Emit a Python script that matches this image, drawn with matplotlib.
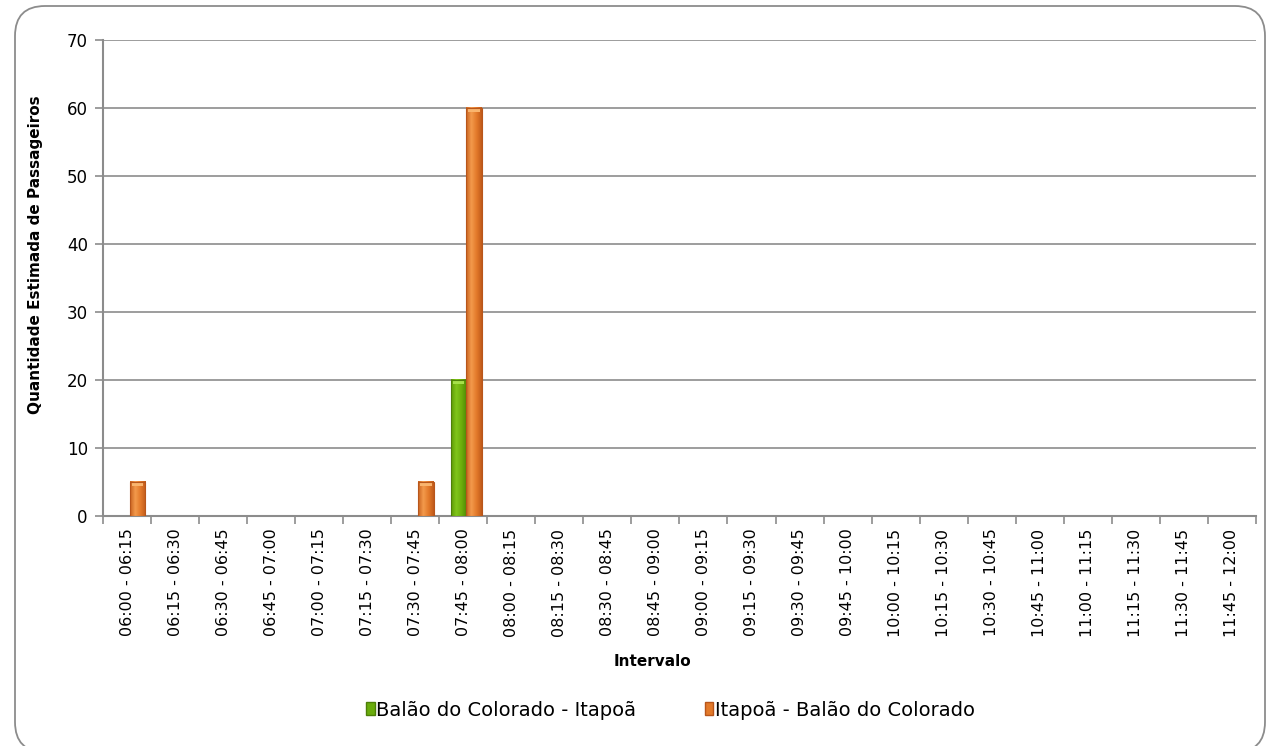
import matplotlib
matplotlib.use("Agg")
import matplotlib.pyplot as plt
from matplotlib.patches import FancyBboxPatch, Patch
from matplotlib.colors import LinearSegmentedColormap
from matplotlib.transforms import IdentityTransform
import numpy as np

categories = ["06:00 - 06:15", "06:15 - 06:30", "06:30 - 06:45", "06:45 - 07:00",
              "07:00 - 07:15", "07:15 - 07:30", "07:30 - 07:45", "07:45 - 08:00",
              "08:00 - 08:15", "08:15 - 08:30", "08:30 - 08:45", "08:45 - 09:00",
              "09:00 - 09:15", "09:15 - 09:30", "09:30 - 09:45", "09:45 - 10:00",
              "10:00 - 10:15", "10:15 - 10:30", "10:30 - 10:45", "10:45 - 11:00",
              "11:00 - 11:15", "11:15 - 11:30", "11:30 - 11:45", "11:45 - 12:00"]
balao_itapoa = [0, 0, 0, 0, 0, 0, 0, 20, 0, 0, 0, 0, 0, 0, 0, 0, 0, 0, 0, 0, 0, 0, 0, 0]
itapoa_balao = [5, 0, 0, 0, 0, 0, 5, 60, 0, 0, 0, 0, 0, 0, 0, 0, 0, 0, 0, 0, 0, 0, 0, 0]
series_names = ["Balão do Colorado - Itapoã", "Itapoã - Balão do Colorado"]

plt.rcParams['font.family'] = ['DejaVu Sans']

green, green_e = "#6aac0c", "#4d7f08"
orange, orange_e = "#e37a2a", "#b8561b"
green_cmap = LinearSegmentedColormap.from_list("g", ["#5e9a06", "#80c51a", "#6cae0c", "#4f8a04"])
orange_cmap = LinearSegmentedColormap.from_list("o", ["#c9621f", "#f39a4c", "#e37a2a", "#c05a1a"])
green_cap, orange_cap = "#a6e04a", "#f9b56e"

fig = plt.figure(figsize=(12.66, 7.46), dpi=100)
box = FancyBboxPatch((15, -6), 1250, 746, boxstyle="round,pad=0,rounding_size=30",
                     transform=IdentityTransform(), facecolor="white", edgecolor="#8c8c8c",
                     linewidth=1.3, zorder=-10)
fig.patches.append(box)
ax = fig.add_axes([0.0814, 0.3083, 0.9106, 0.6381])
ax.patch.set_alpha(0)

x = np.arange(len(categories))
w = 0.32
off = 0.06
grad = np.linspace(0, 1, 64).reshape(1, -1)
b1 = ax.bar(x - w/2 + off, balao_itapoa, w, color="none", edgecolor=green_e, linewidth=0.8, zorder=4)
b2 = ax.bar(x + w/2 + off, itapoa_balao, w, color="none", edgecolor=orange_e, linewidth=0.8, zorder=4)
for bars, vals, cmap, cap in ((b1, balao_itapoa, green_cmap, green_cap),
                              (b2, itapoa_balao, orange_cmap, orange_cap)):
    for r, v in zip(bars, vals):
        if v == 0:
            r.set_visible(False)
            continue
        x0, wd = r.get_x(), r.get_width()
        ax.imshow(grad, cmap=cmap, aspect='auto', extent=(x0, x0 + wd, 0, v),
                  zorder=3, interpolation='bilinear')
        ax.fill_between([x0 + wd*0.12, x0 + wd*0.88], v - 0.55, v - 0.1, color=cap, zorder=3.5, linewidth=0)

ax.set_xlim(-0.5, len(categories) - 0.5)
ax.set_ylim(0, 70)
ax.set_yticks(range(0, 71, 10))
ax.yaxis.grid(True, color="#8c8c8c", linewidth=1.2, zorder=0)
ax.set_axisbelow(True)
ax.set_xticks(x)
ax.set_xticklabels(categories, rotation=90, fontsize=11.5)
ax.set_xticks(np.arange(-0.5, len(categories)), minor=True)
ax.tick_params(axis='x', which='major', length=0, pad=9)
ax.tick_params(axis='x', which='minor', length=6, color="#8c8c8c", width=1.2)
ax.tick_params(axis='y', length=6, color="#8c8c8c", width=1.2, labelsize=12, pad=5)
for s in ['top', 'right']:
    ax.spines[s].set_visible(False)
for s in ['left', 'bottom']:
    ax.spines[s].set_color("#8c8c8c")
    ax.spines[s].set_linewidth(1.5)

ax.set_ylabel("Quantidade Estimada de Passageiros", fontsize=11, fontweight='bold', labelpad=12)
ax.yaxis.set_label_coords(-0.052, 0.548)
fig.text(0.515, 0.113, "Intervalo", ha='center', va='center', fontsize=11, fontweight='bold')

handles = [Patch(facecolor=green, edgecolor=green_e, label=series_names[0]),
           Patch(facecolor=orange, edgecolor=orange_e, label=series_names[1])]
fig.legend(handles=handles, loc='center', bbox_to_anchor=(0.5296, 0.048), ncol=2,
           frameon=False, fontsize=14, handlelength=0.45, handleheight=0.65,
           handletextpad=0.1, columnspacing=3.5)

fig.savefig("out.png", dpi=100)
